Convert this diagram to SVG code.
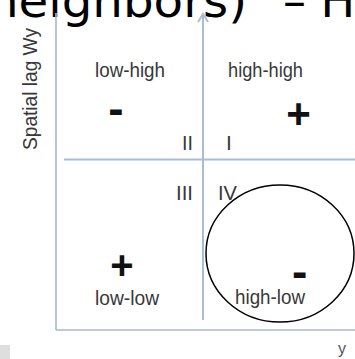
<svg xmlns="http://www.w3.org/2000/svg" width="355" height="359" viewBox="0 0 355 359">
  <style>
    .lbl { font-family: "Liberation Sans", Arial, sans-serif; font-size: 20px; fill: #383838; }
    .num { font-family: "Liberation Sans", Arial, sans-serif; font-size: 21px; fill: #383838; }
    .sign { font-family: "Liberation Sans", Arial, sans-serif; font-weight: bold; fill: #111; text-anchor: middle; }
    .axis { stroke: #a9bed3; stroke-width: 2; fill: none; }
    .frame { stroke: #a7b8c9; stroke-width: 1.6; fill: none; }
    .top { font-family: "DejaVu Sans", sans-serif; font-size: 46px; fill: #000; }
  </style>
  <rect width="355" height="359" fill="#ffffff"/>
  <text class="top" y="16.5"><tspan x="-12" textLength="259" lengthAdjust="spacingAndGlyphs">neighbors)</tspan><tspan x="283">– Hi</tspan></text>
  <rect x="0" y="345" width="10" height="14" fill="#dedede"/>
  <g id="connectors">
    <line class="frame" x1="56" y1="13" x2="56" y2="330"/>
    <line class="frame" x1="56" y1="330" x2="355" y2="330"/>
    <line class="axis" x1="203" y1="14" x2="203" y2="320"/>
    <polyline class="axis" points="198,22 203,14 208,22"/>
    <line class="axis" x1="64" y1="159.5" x2="355" y2="159.5"/>
  </g>
  <g id="ylabel">
    <text class="lbl" transform="translate(37,150) rotate(-90)" textLength="122" lengthAdjust="spacingAndGlyphs">Spatial lag Wy</text>
  </g>
  <g id="xlabel">
    <text class="lbl" x="338" y="354" style="font-size:16px;fill:#555">y</text>
  </g>
  <g id="q-low-high">
    <text class="lbl" x="95" y="76.7" textLength="70" lengthAdjust="spacingAndGlyphs">low-high</text>
    <text class="sign" x="116" y="124.3" font-size="46">-</text>
    <text class="num" x="182" y="150" textLength="11" lengthAdjust="spacingAndGlyphs">II</text>
  </g>
  <g id="q-high-high">
    <text class="lbl" x="228" y="76.7" textLength="75" lengthAdjust="spacingAndGlyphs">high-high</text>
    <text class="sign" x="298.5" y="128.4" font-size="42">+</text>
    <text class="num" x="226" y="150">I</text>
  </g>
  <g id="q-low-low">
    <text class="lbl" x="95" y="305" textLength="64" lengthAdjust="spacingAndGlyphs">low-low</text>
    <text class="sign" x="122" y="279" font-size="40">+</text>
    <text class="num" x="176" y="200" textLength="17" lengthAdjust="spacingAndGlyphs">III</text>
  </g>
  <g id="q-high-low">
    <text class="lbl" x="235" y="304" textLength="70" lengthAdjust="spacingAndGlyphs">high-low</text>
    <text class="sign" x="299.7" y="286.5" font-size="46">-</text>
    <text class="num" x="218" y="200" textLength="19" lengthAdjust="spacingAndGlyphs">IV</text>
  </g>
  <g id="highlight">
    <ellipse cx="280" cy="253.5" rx="74" ry="68.5" fill="none" stroke="#000" stroke-width="1.5"/>
  </g>
</svg>
